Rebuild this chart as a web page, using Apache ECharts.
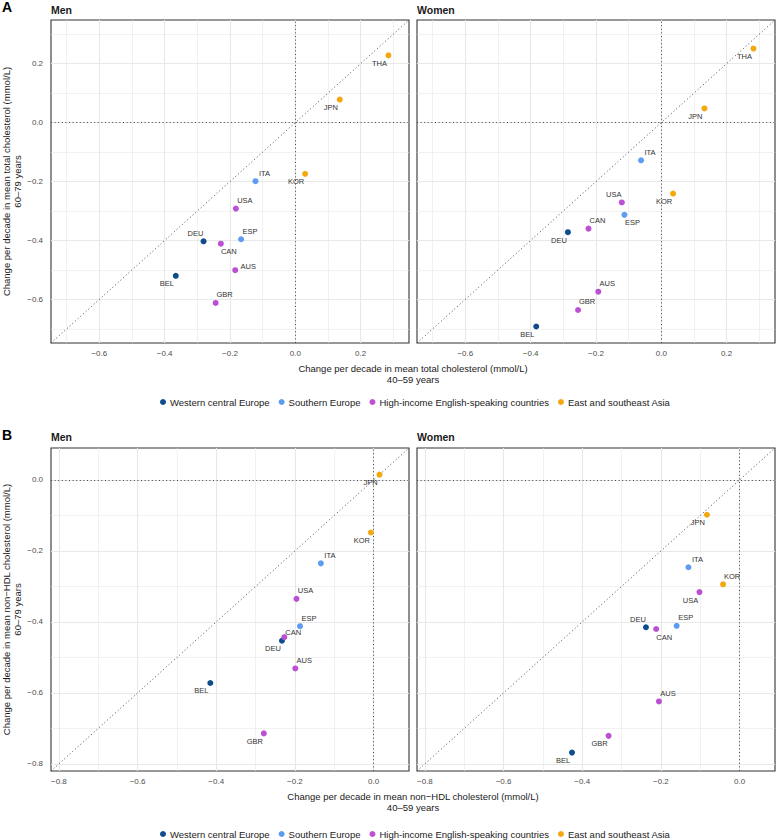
<!DOCTYPE html>
<html><head><meta charset="utf-8">
<script src="https://cdn.jsdelivr.net/npm/echarts@6/dist/echarts.min.js"></script>
<style>html,body{margin:0;padding:0;background:#fff}#c{width:776px;height:840px}</style>
</head><body><div id="c"></div>
<script>
// ---------- DATA ----------
const regions = ['Western central Europe', 'Southern Europe', 'High-income English-speaking countries', 'East and southeast Asia'];
const countries = ['BEL', 'DEU', 'ITA', 'ESP', 'USA', 'CAN', 'AUS', 'GBR', 'JPN', 'KOR', 'THA'];
const countryRegion = [0, 0, 1, 1, 2, 2, 2, 2, 3, 3, 3];

// Panel A: total cholesterol (x: 40-59 years, y: 60-79 years)
const totalMenX   = [-0.366, -0.281, -0.122, -0.166, -0.182, -0.228, -0.184, -0.244, 0.136, 0.030, 0.285];
const totalMenY   = [-0.520, -0.403, -0.199, -0.396, -0.292, -0.411, -0.501, -0.612, 0.078, -0.174, 0.228];
const totalWomenX = [-0.383, -0.286, -0.062, -0.113, -0.121, -0.223, -0.193, -0.255, 0.132, 0.036, 0.282];
const totalWomenY = [-0.692, -0.372, -0.128, -0.313, -0.271, -0.360, -0.574, -0.636, 0.048, -0.241, 0.251];

// Panel B: non-HDL cholesterol (THA not available)
const nonHdlMenX   = [-0.415, -0.233, -0.134, -0.187, -0.196, -0.227, -0.199, -0.279, 0.015, -0.007, null];
const nonHdlMenY   = [-0.572, -0.453, -0.235, -0.412, -0.335, -0.443, -0.531, -0.714, 0.015, -0.148, null];
const nonHdlWomenX = [-0.426, -0.238, -0.130, -0.160, -0.102, -0.212, -0.205, -0.333, -0.083, -0.042, null];
const nonHdlWomenY = [-0.768, -0.415, -0.246, -0.411, -0.316, -0.420, -0.624, -0.721, -0.098, -0.294, null];

// Axis ranges and tick values
const rangeA = [-0.748, 0.348];
const rangeB = [-0.82, 0.09];
const majorTicksA = [-0.6, -0.4, -0.2, 0.0, 0.2];
const minorTicksA = [-0.7, -0.5, -0.3, -0.1, 0.1, 0.3];
const majorTicksB = [-0.8, -0.6, -0.4, -0.2, 0.0];
const minorTicksB = [-0.7, -0.5, -0.3, -0.1];

// ---------- STYLE ----------
const regionColors = ['#0E4C8B', '#5D9CF0', '#BD4FD5', '#F2A80E'];
const FONT = '"Liberation Sans", Arial, Helvetica, sans-serif';
const labelOffsets = {
  bl: [-9, 8], br: [8, 8], al: [-8, -8], ar: [9, -8], r: [13, -4], cr: [9, -5]
};
const labelPlaceAMen   = ['bl', 'al', 'ar', 'ar', 'ar', 'br', 'r', 'ar', 'bl', 'bl', 'bl'];
const labelPlaceAWomen = ['bl', 'bl', 'ar', 'br', 'al', 'ar', 'ar', 'ar', 'bl', 'bl', 'bl'];
const labelPlaceBMen   = ['bl', 'bl', 'ar', 'ar', 'ar', 'cr', 'ar', 'bl', 'bl', 'bl', 'bl'];
const labelPlaceBWomen = ['bl', 'al', 'ar', 'ar', 'bl', 'br', 'ar', 'bl', 'bl', 'ar', 'bl'];

const panelW = 358, panelH = 323;
const panels = [
  { left: 51,  top: 20,  x: totalMenX,    y: totalMenY,    range: rangeA, major: majorTicksA, minor: minorTicksA, place: labelPlaceAMen,   yLabels: true },
  { left: 417, top: 20,  x: totalWomenX,  y: totalWomenY,  range: rangeA, major: majorTicksA, minor: minorTicksA, place: labelPlaceAWomen, yLabels: false },
  { left: 51,  top: 448, x: nonHdlMenX,   y: nonHdlMenY,   range: rangeB, major: majorTicksB, minor: minorTicksB, place: labelPlaceBMen,   yLabels: true },
  { left: 417, top: 448, x: nonHdlWomenX, y: nonHdlWomenY, range: rangeB, major: majorTicksB, minor: minorTicksB, place: labelPlaceBWomen, yLabels: false }
];

const fmt = v => (v < -1e-9 ? '\u2212' : '') + Math.abs(v).toFixed(1);

const grids = [], xAxes = [], yAxes = [], series = [];
panels.forEach((p, i) => {
  grids.push({ left: p.left, top: p.top, width: panelW, height: panelH, show: true,
    borderColor: '#333333', borderWidth: 1.1, backgroundColor: '#ffffff', containLabel: false });
  const axisCommon = (showLabels, major, margin) => ({
    gridIndex: i, type: 'value',
    axisLine: { show: false },
    axisTick: { show: showLabels, length: 3, inside: false, lineStyle: { color: '#333333', width: 1 }, customValues: major },
    axisLabel: { show: showLabels, customValues: major, formatter: fmt, color: '#4d4d4d', fontSize: 8, fontFamily: FONT, margin },
    splitLine: { show: false }
  });
  xAxes.push(Object.assign(axisCommon(true, p.major, 6), { min: p.range[0], max: p.range[1] }));
  yAxes.push(Object.assign(axisCommon(p.yLabels, p.major, 8), { min: p.range[0], max: p.range[1] }));

  // gridlines
  const gl = [];
  p.minor.forEach(v => { gl.push({ xAxis: v, lineStyle: { width: 0.6 } }); gl.push({ yAxis: v, lineStyle: { width: 0.6 } }); });
  p.major.forEach(v => { gl.push({ xAxis: v, lineStyle: { width: 1.1 } }); gl.push({ yAxis: v, lineStyle: { width: 1.1 } }); });
  series.push({
    type: 'scatter', xAxisIndex: i, yAxisIndex: i, data: [], silent: true, z: 1,
    markLine: { z: 1, silent: true, symbol: 'none', animation: false, label: { show: false },
      lineStyle: { color: '#e8e8e8', type: 'solid' }, data: gl }
  });
  // reference lines: diagonal y = x and zero lines
  series.push({
    type: 'line', xAxisIndex: i, yAxisIndex: i, silent: true, z: 2, symbol: 'none', animation: false,
    data: [[p.range[0], p.range[0]], [p.range[1], p.range[1]]],
    lineStyle: { color: '#333333', width: 0.9, type: [1, 2.6] },
    markLine: { z: 2, silent: true, symbol: 'none', animation: false, label: { show: false },
      lineStyle: { color: '#333333', width: 0.9, type: [1, 2.6] },
      data: [{ xAxis: 0 }, { yAxis: 0 }] }
  });
  // points
  regions.forEach((rname, r) => {
    const data = [];
    countries.forEach((c, k) => {
      if (countryRegion[k] !== r || p.x[k] == null) return;
      data.push({ value: [p.x[k], p.y[k]], name: c, label: { offset: labelOffsets[p.place[k]] } });
    });
    series.push({
      type: 'scatter', name: rname, xAxisIndex: i, yAxisIndex: i, z: 10, symbolSize: 6,
      itemStyle: { color: regionColors[r], opacity: 1 }, data,
      label: { show: true, position: 'inside', formatter: '{b}', color: '#333333', fontSize: 7.5, fontFamily: FONT,
        textBorderWidth: 0, textBorderColor: 'transparent', textShadowBlur: 0 },
      emphasis: { disabled: true }
    });
  });
});

const legendCommon = {
  data: regions, icon: 'circle', itemWidth: 6, itemHeight: 6, itemGap: 9, padding: 0,
  textStyle: { fontSize: 9.5, color: '#1a1a1a', fontFamily: FONT, padding: [0, 0, 0, -1] },
  selectedMode: false
};

const txt = (x, y, text, opts) => ({ type: 'text', x, y, silent: true,
  style: Object.assign({ text, fill: '#1a1a1a', fontFamily: FONT, fontSize: 9.5 }, opts || {}) });

const graphics = [
  txt(2, 7, 'A', { fontSize: 14, fontWeight: 'bold', fill: '#000', verticalAlign: 'middle' }),
  txt(2, 435, 'B', { fontSize: 14, fontWeight: 'bold', fill: '#000', verticalAlign: 'middle' }),
  txt(51, 9.5, 'Men', { fontSize: 10.5, fontWeight: 'bold', verticalAlign: 'middle' }),
  txt(417, 9.5, 'Women', { fontSize: 10.5, fontWeight: 'bold', verticalAlign: 'middle' }),
  txt(51, 437, 'Men', { fontSize: 10.5, fontWeight: 'bold', verticalAlign: 'middle' }),
  txt(417, 437, 'Women', { fontSize: 10.5, fontWeight: 'bold', verticalAlign: 'middle' }),
  txt(413, 374, 'Change per decade in mean total cholesterol (mmol/L)\n40\u201359 years',
      { align: 'center', verticalAlign: 'middle', lineHeight: 11 }),
  txt(413, 802, 'Change per decade in mean non\u2212HDL cholesterol (mmol/L)\n40\u201359 years',
      { align: 'center', verticalAlign: 'middle', lineHeight: 11 }),
  Object.assign(txt(12, 181.5, 'Change per decade in mean total cholesterol (mmol/L)\n60\u201379 years',
      { align: 'center', verticalAlign: 'middle', lineHeight: 11 }), { rotation: Math.PI / 2 }),
  Object.assign(txt(12, 609.5, 'Change per decade in mean non\u2212HDL cholesterol (mmol/L)\n60\u201379 years',
      { align: 'center', verticalAlign: 'middle', lineHeight: 11 }), { rotation: Math.PI / 2 })
];

const chart = echarts.init(document.getElementById('c'), null, { renderer: 'svg', width: 776, height: 840 });
chart.setOption({
  backgroundColor: '#ffffff',
  animation: false,
  textStyle: { fontFamily: FONT },
  grid: grids, xAxis: xAxes, yAxis: yAxes, series,
  legend: [
    Object.assign({ left: 160, top: 397 }, legendCommon),
    Object.assign({ left: 160, top: 829 }, legendCommon)
  ],
  graphic: graphics
});
</script></body></html>
